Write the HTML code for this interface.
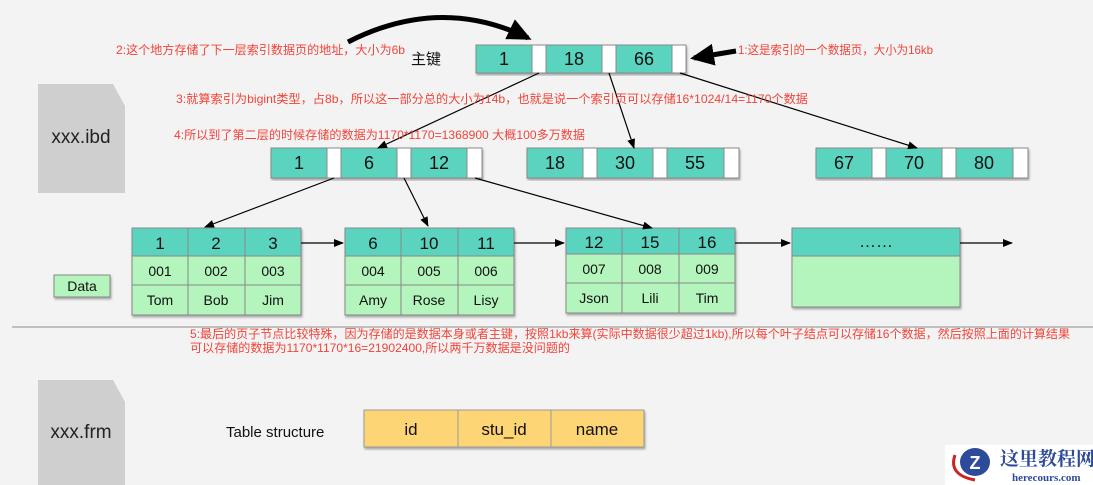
<!DOCTYPE html>
<html><head><meta charset="utf-8"><style>
body{margin:0;width:1093px;height:485px;background:#f3f3f3;overflow:hidden;position:relative;font-family:"Liberation Sans","Noto Sans CJK SC",sans-serif}
svg{position:absolute;left:0;top:0}
</style></head><body>
<svg width="1093" height="485" viewBox="0 0 1093 485" font-family="Liberation Sans, Noto Sans CJK SC, sans-serif">
<defs>
<marker id="a" markerWidth="10" markerHeight="8" refX="9" refY="4" orient="auto" markerUnits="userSpaceOnUse"><path d="M0,0 L10,4 L0,8z" fill="#000"/></marker>
<marker id="b" markerWidth="24" markerHeight="22" refX="20" refY="11" orient="auto" markerUnits="userSpaceOnUse"><path d="M0,0 L24,11 L0,22z" fill="#000"/></marker>
<filter id="s"><feDropShadow dx="1" dy="2" stdDeviation="1" flood-opacity="0.3"/></filter>
</defs>
<path d="M38,84 H113 L125,106 V193 H38z" fill="#cfcfcf"/>
<text x="81" y="143" font-size="19" text-anchor="middle" fill="#222">xxx.ibd</text>
<path d="M38,380 H113 L125,402 V485 H38z" fill="#cfcfcf"/>
<text x="81" y="438" font-size="19" text-anchor="middle" fill="#222">xxx.frm</text>
<line x1="12" y1="327" x2="1093" y2="327" stroke="#b0b0b0" stroke-width="1.5"/>
<g filter="url(#s)" stroke="#888" stroke-width="1">
<rect x="476" y="45" width="56" height="28" fill="#5ad3bf"/><rect x="532" y="45" width="14" height="28" fill="#fff"/>
<rect x="546" y="45" width="56" height="28" fill="#5ad3bf"/><rect x="602" y="45" width="14" height="28" fill="#fff"/>
<rect x="616" y="45" width="56" height="28" fill="#5ad3bf"/><rect x="672" y="45" width="14" height="28" fill="#fff"/>
</g>
<g font-size="18" text-anchor="middle" fill="#111"><text x="504" y="65">1</text><text x="574" y="65">18</text><text x="644" y="65">66</text></g>
<text x="411" y="64" font-size="15" fill="#111">主键</text>
<g filter="url(#s)" stroke="#888" stroke-width="1">
<rect x="271" y="148" width="56" height="30" fill="#5ad3bf"/><rect x="327" y="148" width="14" height="30" fill="#fff"/>
<rect x="341" y="148" width="56" height="30" fill="#5ad3bf"/><rect x="397" y="148" width="14" height="30" fill="#fff"/>
<rect x="411" y="148" width="56" height="30" fill="#5ad3bf"/><rect x="467" y="148" width="15" height="30" fill="#fff"/>
<rect x="527" y="148" width="56" height="30" fill="#5ad3bf"/><rect x="583" y="148" width="14" height="30" fill="#fff"/>
<rect x="597" y="148" width="56" height="30" fill="#5ad3bf"/><rect x="653" y="148" width="14" height="30" fill="#fff"/>
<rect x="667" y="148" width="57" height="30" fill="#5ad3bf"/><rect x="724" y="148" width="15" height="30" fill="#fff"/>
<rect x="816" y="148" width="56" height="30" fill="#5ad3bf"/><rect x="872" y="148" width="14" height="30" fill="#fff"/>
<rect x="886" y="148" width="56" height="30" fill="#5ad3bf"/><rect x="942" y="148" width="14" height="30" fill="#fff"/>
<rect x="956" y="148" width="57" height="30" fill="#5ad3bf"/><rect x="1013" y="148" width="15" height="30" fill="#fff"/>
</g>
<g font-size="18" text-anchor="middle" fill="#111">
<text x="299" y="169">1</text><text x="369" y="169">6</text><text x="439" y="169">12</text>
<text x="555" y="169">18</text><text x="625" y="169">30</text><text x="695" y="169">55</text>
<text x="844" y="169">67</text><text x="914" y="169">70</text><text x="984" y="169">80</text>
</g>
<g filter="url(#s)" stroke="#888" stroke-width="1">
<rect x="132" y="228" width="169" height="28" fill="#5ad3bf"/><rect x="132" y="256" width="169" height="59" fill="#b3f5bd"/>
<rect x="345" y="228" width="169" height="28" fill="#5ad3bf"/><rect x="345" y="256" width="169" height="59" fill="#b3f5bd"/>
<rect x="566" y="228" width="169" height="26" fill="#5ad3bf"/><rect x="566" y="254" width="169" height="59" fill="#b3f5bd"/>
<rect x="792" y="228" width="168" height="28" fill="#5ad3bf"/><rect x="792" y="256" width="168" height="51" fill="#b3f5bd"/>
<rect x="54" y="275" width="56" height="22" fill="#b3f5bd"/>
</g>
<g stroke="#888" stroke-width="1">
<line x1="188" y1="228" x2="188" y2="315"/><line x1="245" y1="228" x2="245" y2="315"/><line x1="132" y1="285" x2="301" y2="285"/>
<line x1="401" y1="228" x2="401" y2="315"/><line x1="458" y1="228" x2="458" y2="315"/><line x1="345" y1="285" x2="514" y2="285"/>
<line x1="622" y1="228" x2="622" y2="313"/><line x1="679" y1="228" x2="679" y2="313"/><line x1="566" y1="283" x2="735" y2="283"/>
</g>
<g font-size="17" text-anchor="middle" fill="#111">
<text x="160" y="249">1</text><text x="216" y="249">2</text><text x="273" y="249">3</text>
<text x="373" y="249">6</text><text x="429" y="249">10</text><text x="486" y="249">11</text>
<text x="594" y="248">12</text><text x="650" y="248">15</text><text x="707" y="248">16</text>
<text x="876" y="247">……</text>
</g>
<g font-size="14" text-anchor="middle" fill="#111">
<text x="160" y="276">001</text><text x="216" y="276">002</text><text x="273" y="276">003</text>
<text x="160" y="305">Tom</text><text x="216" y="305">Bob</text><text x="273" y="305">Jim</text>
<text x="373" y="276">004</text><text x="429" y="276">005</text><text x="486" y="276">006</text>
<text x="373" y="305">Amy</text><text x="429" y="305">Rose</text><text x="486" y="305">Lisy</text>
<text x="594" y="274">007</text><text x="650" y="274">008</text><text x="707" y="274">009</text>
<text x="594" y="303">Json</text><text x="650" y="303">Lili</text><text x="707" y="303">Tim</text>
<text x="82" y="291">Data</text>
</g>
<g stroke="#000" stroke-width="1.2" fill="none" marker-end="url(#a)">
<line x1="539" y1="73" x2="378" y2="148"/>
<line x1="609" y1="73" x2="634" y2="148"/>
<line x1="680" y1="73" x2="917" y2="148"/>
<line x1="334" y1="178" x2="205" y2="227"/>
<line x1="404" y1="178" x2="428" y2="226"/>
<line x1="475" y1="178" x2="652" y2="228"/>
<line x1="301" y1="243" x2="343" y2="243"/>
<line x1="514" y1="243" x2="564" y2="243"/>
<line x1="735" y1="243" x2="790" y2="243"/>
<line x1="960" y1="243" x2="1012" y2="243"/>
</g>
<path d="M348,42 Q440,-5 528,38" stroke="#000" stroke-width="5" fill="none" marker-end="url(#b)"/>
<line x1="736" y1="51" x2="694" y2="58" stroke="#000" stroke-width="5" marker-end="url(#b)"/>
<g fill="#f0443a" font-size="12">
<text x="116" y="54" textLength="289" lengthAdjust="spacingAndGlyphs">2:这个地方存储了下一层索引数据页的地址，大小为6b</text>
<text x="738" y="54" textLength="195" lengthAdjust="spacingAndGlyphs">1:这是索引的一个数据页，大小为16kb</text>
<text x="176" y="103" textLength="632" lengthAdjust="spacingAndGlyphs">3:就算索引为bigint类型，占8b，所以这一部分总的大小为14b，也就是说一个索引页可以存储16*1024/14=1170个数据</text>
<text x="174" y="139" textLength="411" lengthAdjust="spacingAndGlyphs">4:所以到了第二层的时候存储的数据为1170*1170=1368900  大概100多万数据</text>
<text x="190" y="338" textLength="880" lengthAdjust="spacingAndGlyphs">5:最后的页子节点比较特殊，因为存储的是数据本身或者主键，按照1kb来算(实际中数据很少超过1kb),所以每个叶子结点可以存储16个数据，然后按照上面的计算结果</text>
<text x="190" y="352" textLength="380" lengthAdjust="spacingAndGlyphs">可以存储的数据为1170*1170*16=21902400,所以两千万数据是没问题的</text>
</g>
<text x="226" y="437" font-size="15" fill="#111">Table structure</text>
<g filter="url(#s)" stroke="#999" stroke-width="1" fill="#fdd574">
<rect x="364" y="410" width="94" height="37"/><rect x="458" y="410" width="93" height="37"/><rect x="551" y="410" width="93" height="37"/>
</g>
<g font-size="17" text-anchor="middle" fill="#111"><text x="411" y="435">id</text><text x="504" y="435">stu_id</text><text x="597" y="435">name</text></g>
<rect x="945" y="445" width="148" height="40" fill="#fff"/>
<ellipse cx="975" cy="462" rx="15" ry="14" fill="#2e4a9a"/>
<path d="M955,455 Q948,475 975,480" stroke="#c22" stroke-width="3" fill="none"/>
<text x="975" y="469" font-size="18" font-weight="bold" fill="#fff" text-anchor="middle">Z</text>
<text x="1000" y="465" font-size="19" font-weight="bold" fill="#2e4a9a" font-family="Noto Serif CJK SC, serif">这里教程网</text>
<text x="1012" y="481" font-size="11" font-weight="bold" fill="#2e4a9a" font-family="Liberation Serif, serif">herecours.com</text>
</svg>
</body></html>
